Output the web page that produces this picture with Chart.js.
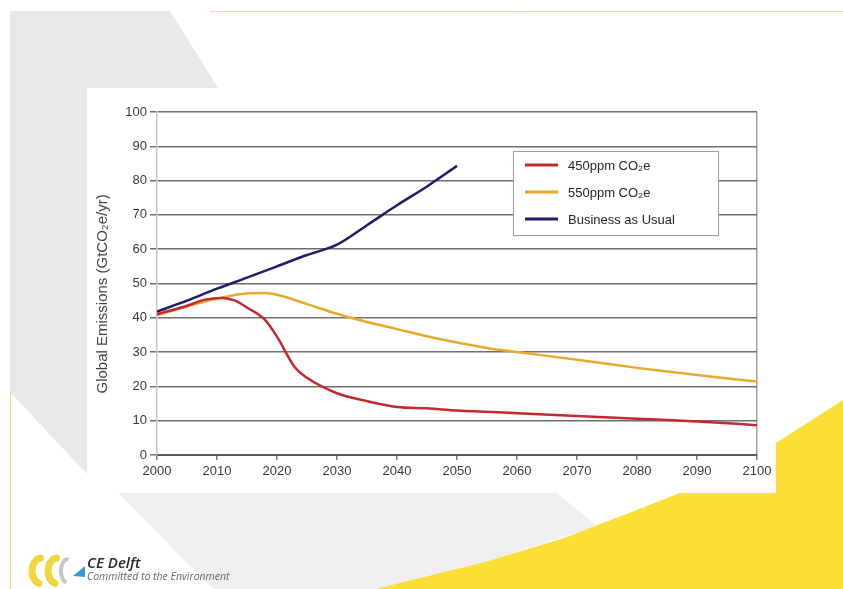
<!DOCTYPE html>
<html>
<head>
<meta charset="utf-8">
<title>Global Emissions</title>
<script src="https://cdn.jsdelivr.net/npm/chart.js@4.4.1/dist/chart.umd.min.js"></script>
<style>
  html, body { margin: 0; padding: 0; background: #fff; }
  canvas { display: block; }
</style>
</head>
<body>
<canvas id="chart" width="843" height="589"></canvas>
<script>
// --- data ---
const years450 = [2000, 2005, 2008, 2011, 2013, 2015, 2018, 2020, 2023, 2025, 2030, 2035, 2040, 2045, 2050, 2060, 2070, 2080, 2090, 2100];
const values450 = [41, 43.5, 45.3, 45.8, 45, 43, 39.4, 34.5, 25.5, 22.5, 18, 15.7, 14, 13.6, 13, 12.2, 11.4, 10.6, 9.8, 8.7];

const years550 = [2000, 2005, 2010, 2015, 2018, 2020, 2025, 2030, 2035, 2040, 2045, 2050, 2055, 2060, 2070, 2080, 2090, 2100];
const values550 = [40.8, 43.3, 45.6, 47.1, 47.2, 46.7, 44, 41.2, 38.8, 36.7, 34.6, 32.8, 31.2, 30, 27.8, 25.4, 23.3, 21.4];

const yearsBau = [2000, 2005, 2010, 2015, 2020, 2025, 2030, 2035, 2040, 2045, 2050];
const valuesBau = [41.8, 45, 48.5, 51.7, 55, 58.3, 61.3, 67, 72.8, 78.3, 84.3];

const seriesNames = ['450ppm CO\u2082e', '550ppm CO\u2082e', 'Business as Usual'];
const seriesColors = ['#c22a30', '#e9aa2c', '#1d1d6a'];

const xTicks = { min: 2000, max: 2100, step: 10 };
const yTicks = { min: 0, max: 100, step: 10 };

const toPoints = (xs, ys) => xs.map((x, i) => ({ x, y: ys[i] }));

// --- slide background: grey panels, yellow swoosh, white card, logo ---
function poly(ctx, pts, fill) {
  ctx.beginPath();
  ctx.moveTo(pts[0][0], pts[0][1]);
  for (let i = 1; i < pts.length; i++) ctx.lineTo(pts[i][0], pts[i][1]);
  ctx.closePath();
  ctx.fillStyle = fill;
  ctx.fill();
}

const slideBackground = {
  id: 'slideBackground',
  beforeDraw(chart) {
    const ctx = chart.ctx;
    ctx.save();
    ctx.fillStyle = '#ffffff';
    ctx.fillRect(0, 0, chart.width, chart.height);

    poly(ctx, [[10, 11], [170, 11], [218, 88], [88, 88], [88, 475], [10, 392]], '#e8e8e9');
    poly(ctx, [[118, 493], [557, 493], [597, 526], [485, 562], [375, 589], [213, 589]], '#efeff1');
    poly(ctx, [[375, 589], [485, 562], [564, 538], [629, 513], [680, 493], [776, 443], [843, 400], [843, 589]], '#fbdf36');

    ctx.strokeStyle = '#f8e37a';
    ctx.lineWidth = 1;
    ctx.beginPath();
    ctx.moveTo(210, 11.5); ctx.lineTo(843, 11.5);
    ctx.moveTo(10.5, 392); ctx.lineTo(10.5, 589);
    ctx.stroke();

    ctx.fillStyle = '#ffffff';
    ctx.fillRect(87, 88, 689, 405);

    // logo ribbons
    ctx.lineCap = 'round';
    ctx.lineWidth = 7;
    ctx.strokeStyle = '#eed63c';
    ctx.beginPath(); ctx.ellipse(42, 571, 10, 13, 0, 0.6 * Math.PI, 1.45 * Math.PI); ctx.stroke();
    ctx.beginPath(); ctx.ellipse(58, 571, 10, 13, 0, 0.6 * Math.PI, 1.45 * Math.PI); ctx.stroke();
    ctx.strokeStyle = '#c4c6c8';
    ctx.lineWidth = 4;
    ctx.beginPath(); ctx.ellipse(68, 571, 7, 12, 0, 0.65 * Math.PI, 1.45 * Math.PI); ctx.stroke();
    poly(ctx, [[73, 576], [85, 566], [85, 577]], '#3a9ad9');

    ctx.fillStyle = '#2b2b2b';
    ctx.font = 'italic 600 15px "Open Sans"';
    ctx.textBaseline = 'alphabetic';
    ctx.fillText('CE Delft', 87, 568);
    ctx.fillStyle = '#666666';
    ctx.font = 'italic 10.5px "Open Sans"';
    ctx.fillText('Committed to the Environment', 87, 580);
    ctx.restore();
  }
};

// --- boxed legend inside the plot, built from the datasets ---
const boxLegend = {
  id: 'boxLegend',
  afterDatasetsDraw(chart) {
    const ctx = chart.ctx;
    const left = chart.chartArea.left + 356;
    const top = chart.chartArea.top + 39;
    ctx.save();
    ctx.fillStyle = '#ffffff';
    ctx.fillRect(left, top, 206, 85);
    ctx.strokeStyle = '#9c9c9c';
    ctx.lineWidth = 1;
    ctx.strokeRect(left + 0.5, top + 0.5, 205, 84);
    ctx.font = '13px "Liberation Sans", Arial, sans-serif';
    ctx.textBaseline = 'middle';
    chart.data.datasets.forEach((ds, i) => {
      const y = top + 14 + i * 27;
      ctx.strokeStyle = ds.borderColor;
      ctx.lineWidth = 3;
      ctx.beginPath();
      ctx.moveTo(left + 12, y);
      ctx.lineTo(left + 45, y);
      ctx.stroke();
      ctx.fillStyle = '#262626';
      ctx.fillText(ds.label, left + 55, y + 1);
    });
    ctx.restore();
  }
};

new Chart(document.getElementById('chart'), {
  type: 'line',
  data: {
    datasets: [
      { label: seriesNames[0], data: toPoints(years450, values450), borderColor: seriesColors[0] },
      { label: seriesNames[1], data: toPoints(years550, values550), borderColor: seriesColors[1] },
      { label: seriesNames[2], data: toPoints(yearsBau, valuesBau), borderColor: seriesColors[2] }
    ]
  },
  options: {
    responsive: false,
    animation: false,
    layout: { padding: { left: 87, top: 112, right: 86, bottom: 100 } },
    plugins: { legend: { display: false }, tooltip: { enabled: false } },
    elements: {
      point: { radius: 0 },
      line: { borderWidth: 2.5, cubicInterpolationMode: 'monotone', fill: false }
    },
    scales: {
      x: {
        type: 'linear',
        min: xTicks.min,
        max: xTicks.max,
        afterFit: s => { s.height = 34; },
        ticks: {
          stepSize: xTicks.step,
          callback: v => String(v),
          color: '#3a3a3a',
          font: { family: '"Liberation Sans", Arial, sans-serif', size: 13 },
          padding: 4,
          maxRotation: 0,
          autoSkip: false
        },
        grid: {
          color: c => (c.tick && c.tick.value === xTicks.max ? '#a0a0a0' : 'rgba(0,0,0,0)'),
          tickColor: '#7a7a7a',
          tickLength: 5,
          lineWidth: 1.5
        },
        border: { color: '#5c5c5c', width: 2 }
      },
      y: {
        min: yTicks.min,
        max: yTicks.max,
        afterFit: s => { s.width = 70; },
        ticks: {
          stepSize: yTicks.step,
          color: '#3a3a3a',
          font: { family: '"Liberation Sans", Arial, sans-serif', size: 13 },
          padding: 3
        },
        grid: { color: '#6e6e6e', lineWidth: 1.5, tickLength: 7 },
        border: { color: '#c6c6c6', width: 1.5 },
        title: {
          display: true,
          text: 'Global Emissions (GtCO\u2082e/yr)     ',
          color: '#444444',
          font: { family: '"Liberation Sans", Arial, sans-serif', size: 15 },
          padding: { top: 7, bottom: 0 }
        }
      }
    }
  },
  plugins: [slideBackground, boxLegend]
});
</script>
</body>
</html>
